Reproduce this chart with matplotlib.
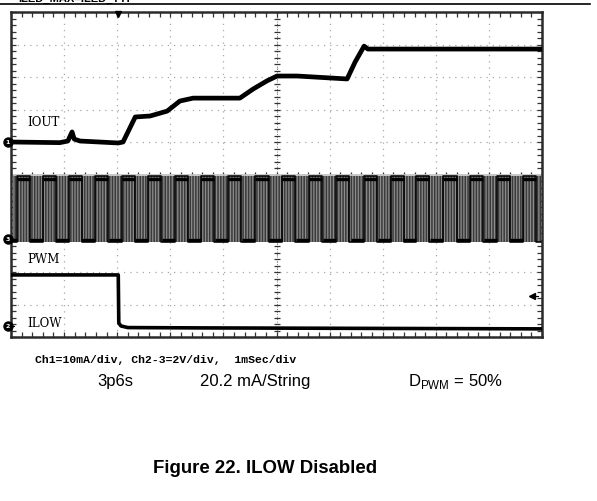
import numpy as np
import matplotlib
matplotlib.use("Agg")
import matplotlib.pyplot as plt
from matplotlib.lines import Line2D

# ── scope traces (x in divisions = ms, y in divisions from bottom) ──────────
iout_t = [0.0, 0.92, 1.07, 1.15, 1.19, 1.30, 2.02, 2.11, 2.34, 2.62, 2.94, 3.18,
          3.43, 4.31, 4.56, 4.82, 5.01, 5.39, 6.33, 6.48, 6.65, 6.72, 10.0]
iout_v = [6.0, 5.98, 6.03, 6.31, 6.09, 6.03, 5.97, 6.0, 6.77, 6.80, 6.95, 7.26,
          7.35, 7.35, 7.63, 7.88, 8.03, 8.03, 7.94, 8.46, 8.95, 8.86, 8.86]

ilow_t = [0.0, 2.02, 2.03, 2.07, 2.20, 3.56, 10.0]
ilow_v = [1.91, 1.91, 0.43, 0.34, 0.29, 0.28, 0.25]

pwm_rise = [0.11, 0.60, 1.09, 1.58, 2.09, 2.58, 3.09, 3.58, 4.09, 4.60,
            5.10, 5.61, 6.12, 6.65, 7.16, 7.63, 8.14, 8.64, 9.15, 9.64]
pwm_width = 0.25
pwm_high = 4.95
pwm_low = 2.92

# channel markers: (digit, level in div)
ch_marks = [("1", 6.0), ("3", 3.02), ("2", 0.34)]
ch_labels = [("IOUT", 6.62), ("PWM", 2.43), ("ILOW", 0.46)]

W, H = 597, 502


def fx(px):
    return px / W


def fy(py):
    return 1 - py / H


fig = plt.figure(figsize=(W / 100, H / 100), dpi=100)
ax = fig.add_axes([fx(11), fy(338), 531 / W, 325 / H])
ax.set_xlim(0, 10)
ax.set_ylim(0, 10)

# graticule
for k in range(1, 10):
    ax.axvline(k, color="#a8a8a8", lw=0.9, ls=(0, (1, 4)), zorder=1)
    ax.axhline(k, color="#a8a8a8", lw=0.9, ls=(0, (1, 4)), zorder=1)
minor = np.arange(0, 10.01, 0.2)
ax.plot(np.full_like(minor, 5.0), minor, ls="none", marker="_", ms=5,
        mew=0.9, color="#333333", zorder=2)
ax.plot(minor, np.full_like(minor, 5.0), ls="none", marker="|", ms=5,
        mew=0.9, color="#333333", zorder=2)
ax.axvline(5, color="#555555", lw=0.6, ls=(0, (1, 2)), zorder=1)

ax.set_xticks(np.arange(0, 10.01, 1))
ax.set_yticks(np.arange(0, 10.01, 1))
ax.set_xticks(minor, minor=True)
ax.set_yticks(minor, minor=True)
ax.tick_params(which="both", direction="in", length=3.5, width=0.9,
               color="#333333", top=True, right=True,
               labelbottom=False, labelleft=False)
for s in ax.spines.values():
    s.set_color("#2a2a2a")
    s.set_linewidth(1.8)

# PWM band (aliased fast PWM) + square pattern
plt.rcParams["hatch.linewidth"] = 1.1
ax.fill_between([0.03, 9.98], pwm_low, pwm_high, facecolor="#8c8c8c",
                hatch="||||||", edgecolor="#3a3a3a", lw=0, zorder=2)
ax.plot([0.03, 9.98], [pwm_high + 0.05] * 2, color="#c4c4c4", lw=1.3, zorder=2)
pt, pv = [0.03], [pwm_low]
for r in pwm_rise:
    pt += [r, r, r + pwm_width, r + pwm_width]
    pv += [pwm_low, pwm_high, pwm_high, pwm_low]
pt.append(9.98)
pv.append(pv[-1])
ax.plot(pt, pv, color="black", lw=1.1, zorder=3)
for r in pwm_rise:
    ax.plot([r, r + pwm_width], [pwm_high - 0.08] * 2, color="black",
            lw=2.4, solid_capstyle="butt", zorder=3)
    ax.plot([r - 0.25, r], [pwm_low + 0.08] * 2, color="black",
            lw=2.4, solid_capstyle="butt", zorder=3)

# current traces
ax.plot(iout_t, iout_v, color="black", lw=3.4, solid_joinstyle="round", zorder=4)
ax.plot(ilow_t, ilow_v, color="black", lw=2.6, zorder=4)

# trigger markers
ax.plot([2.02], [9.93], marker="v", ms=5, color="black", zorder=5, clip_on=False)
ax.plot([9.81], [1.26], marker="<", ms=4, color="black", zorder=5)
ax.plot([9.81, 9.93], [1.26, 1.26], color="black", lw=0.8, zorder=5)

# channel markers on the left edge
for digit, lvl in ch_marks:
    ax.plot([-0.06], [lvl], marker="o", ms=6.5, color="black",
            clip_on=False, zorder=6)
    ax.plot([-0.02, 0.06], [lvl, lvl], color="black", lw=0.8,
            clip_on=False, zorder=6)
    ax.text(-0.06, lvl, digit, color="white", fontsize=4.5, weight="bold",
            ha="center", va="center", zorder=7, clip_on=False)

for lab, lvl in ch_labels:
    ax.text(0.3, lvl, lab, family="DejaVu Serif", weight="normal",
            fontsize=8.6, ha="left", va="center", zorder=6)

# page furniture
fig.add_artist(Line2D([0, fx(590)], [fy(5), fy(5)], color="black", lw=1.2))
fig.text(fx(18), fy(2), "ILED_MAX=ILED_TYP", fontsize=8, weight="bold",
         family="Liberation Sans", va="baseline")

fig.text(fx(35), fy(360), "Ch1=10mA/div, Ch2-3=2V/div,  1mSec/div",
         family="Liberation Mono", weight="bold", fontsize=8.2, va="center")

plt.rcParams["mathtext.fontset"] = "custom"
plt.rcParams["mathtext.rm"] = "Liberation Sans"
fig.text(fx(97), fy(382), "3p6s", family="Liberation Sans", fontsize=12,
         va="center")
fig.text(fx(200), fy(382), "20.2 mA/String", family="Liberation Sans",
         fontsize=12, va="center")
fig.text(fx(408), fy(382), r"D$_{\mathrm{PWM}}$ = 50%", family="Liberation Sans",
         fontsize=12, va="center")

fig.text(fx(265), fy(469), "Figure 22. ILOW Disabled", family="Liberation Sans",
         weight="bold", fontsize=13.4, ha="center", va="center")

fig.savefig("out.png", dpi=100)
